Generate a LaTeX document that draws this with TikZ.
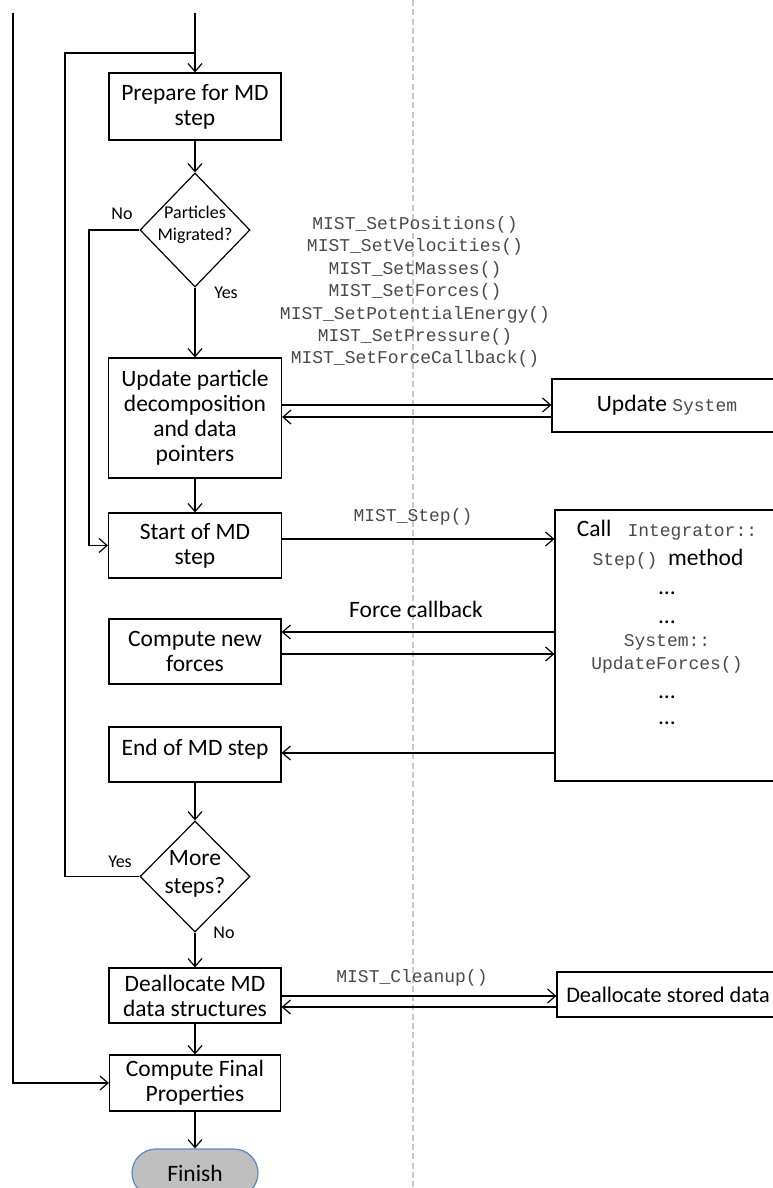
\documentclass[tikz,border=0pt]{standalone}
\usepackage{fontspec}
\setmainfont{Carlito}
\newfontfamily\monof{Liberation Mono}
\usetikzlibrary{arrows.meta,shapes.geometric,calc}
\newcommand{\bigtxt}{\fontsize{23.5}{25}\selectfont}
\newcommand{\midtxt}{\fontsize{23.5}{28}\selectfont}
\newcommand{\smtxt}{\fontsize{18}{22.5}\selectfont}
\newcommand{\montxt}{\fontsize{18}{22.4}\selectfont\monof}
\definecolor{finf}{HTML}{BFBFBF}
\definecolor{finb}{HTML}{5B87C5}
\definecolor{dashc}{HTML}{C8C8C8}
\definecolor{monoc}{HTML}{4A4A4A}
\begin{document}
\begin{tikzpicture}[x=1pt,y=-1pt,
  line width=1.2pt,
  >={Straight Barb[length=8pt,width=14pt]},
  box/.style={draw,rectangle,inner sep=0pt,align=center,font=\bigtxt},
  dia/.style={draw,diamond,inner sep=0pt},
  lbl/.style={font=\smtxt,inner sep=0pt,align=center},
  mono/.style={font=\montxt,inner sep=0pt,align=center,text=monoc},
  big/.style={font=\bigtxt,inner sep=0pt,align=center},
  dashline/.style={draw=dashc,dash pattern=on 6pt off 3.3pt}
]
\useasboundingbox (0,0) rectangle (773,1188);

% dashed separator
\coordinate (d0) at (413,0);
\coordinate (d1) at (413,1188);
\draw[dashline] (d0) -- (d1);

% main column
\node[box,minimum width=172,minimum height=67] (prep) at (195,106.5) {Prepare for MD\\step};
\node[dia,minimum width=110,minimum height=114] (mig) at (195,230) {};
\node[lbl] (migt) at (195,225) {Particles\\Migrated?};
\node[box,minimum width=173,minimum height=120] (upd) at (195,418) {Update particle\\decomposition\\and data\\pointers};
\node[box,minimum width=173,minimum height=65] (start) at (195,545.5) {Start of MD\\step};
\node[box,minimum width=172,minimum height=65] (comp) at (195,651.5) {Compute new\\forces};
\node[box,minimum width=172,text height=28.5pt,text depth=26.5pt] (endmd) at (195,754.5) {End of MD step};
\node[dia,minimum width=110,minimum height=111] (more) at (195,876.5) {};
\node[big,font=\midtxt] (moret) at (195,874) {More\\steps?};
\node[box,minimum width=172,minimum height=55] (dealloc) at (195,995.5) {Deallocate MD\\data structures};
\node[box,minimum width=171,minimum height=56] (final) at (195,1083) {Compute Final\\Properties};
\node[draw=finb,fill=finf,rounded corners=24pt,minimum width=126,minimum height=48,font=\bigtxt,inner sep=0pt] (finish) at (195,1173) {Finish};

% branch labels
\node[lbl] (no1) at (122,214) {No};
\node[lbl] (yes1) at (226,293) {Yes};
\node[lbl] (yes2) at (120,862) {Yes};
\node[lbl] (no2) at (224,933) {No};

% right column
\node[box,minimum width=230,minimum height=53] (sys) at (667,405.5) {Update {\color{monoc}\montxt System}};
\node[draw,minimum width=224,minimum height=271,inner sep=0pt] (integ) at (667,645.5) {};
\node[big] (i1) at (667,530) {Call {\color{monoc}\montxt\ Integrator::}};
\node[big] (i2) at (668,559) {{\color{monoc}\montxt Step()\ }method};
\node[big] (i3) at (667,593) {…};
\node[big] (i4) at (667,622) {…};
\node[mono] (i5) at (667,642) {System::};
\node[mono] (i6) at (667,665) {UpdateForces()};
\node[big] (i7) at (667,697) {…};
\node[big] (i8) at (667,723) {…};
\node[draw,minimum width=227,minimum height=45,inner sep=0pt] (dsd) at (670.5,994.5) {};
\node[big,font=\fontsize{22.3}{25}\selectfont] (dsdt) at (668,994.5) {Deallocate stored data};

% call labels
\node[mono] (calls) at (415,292) {MIST\_SetPositions()\\MIST\_SetVelocities()\\MIST\_SetMasses()\\MIST\_SetForces()\\MIST\_SetPotentialEnergy()\\MIST\_SetPressure()\\MIST\_SetForceCallback()};
\node[mono] (lstep) at (413,517) {MIST\_Step()};
\node[big] (lforce) at (416,609) {Force callback};
\node[mono] (lclean) at (412,978) {MIST\_Cleanup()};

% helper coordinates
\coordinate (top1) at (195,13);
\coordinate (top0) at (13,13);
\coordinate (j1) at (195,53);
\coordinate (loopx) at (65,53);
\coordinate (nox) at (89,230);
\coordinate (ya) at (0,405);
\coordinate (yb) at (0,417);
\coordinate (ystep) at (0,539);
\coordinate (yf1) at (0,632);
\coordinate (yf2) at (0,654);
\coordinate (yend) at (0,753);
\coordinate (yc1) at (0,996);
\coordinate (yc2) at (0,1007);

% connectors
\draw[->] (top1) -- (prep.north);
\draw (more.west) -| (loopx) -- (j1);
\draw[->] (top0) |- (final.west);
\draw[->] (prep.south) -- (mig.north);
\draw[->] (mig.south) -- (upd.north);
\draw[->] (mig.west) -- (nox) |- (start.west);
\draw[->] (upd.south) -- (start.north);
\draw[->] (endmd.south) -- (more.north);
\draw[->] (more.south) -- (dealloc.north);
\draw[->] (dealloc.south) -- (final.north);
\draw[->] (final.south) -- (finish.north);

\draw[->] (upd.east |- ya) -- (sys.west |- ya);
\draw[->] (sys.west |- yb) -- (upd.east |- yb);
\draw[->] (start.east |- ystep) -- (integ.west |- ystep);
\draw[->] (integ.west |- yf1) -- (comp.east |- yf1);
\draw[->] (comp.east |- yf2) -- (integ.west |- yf2);
\draw[->] (integ.west |- yend) -- (endmd.east |- yend);
\draw[->] (dealloc.east |- yc1) -- (dsd.west |- yc1);
\draw[->] (dsd.west |- yc2) -- (dealloc.east |- yc2);
\end{tikzpicture}
\end{document}
